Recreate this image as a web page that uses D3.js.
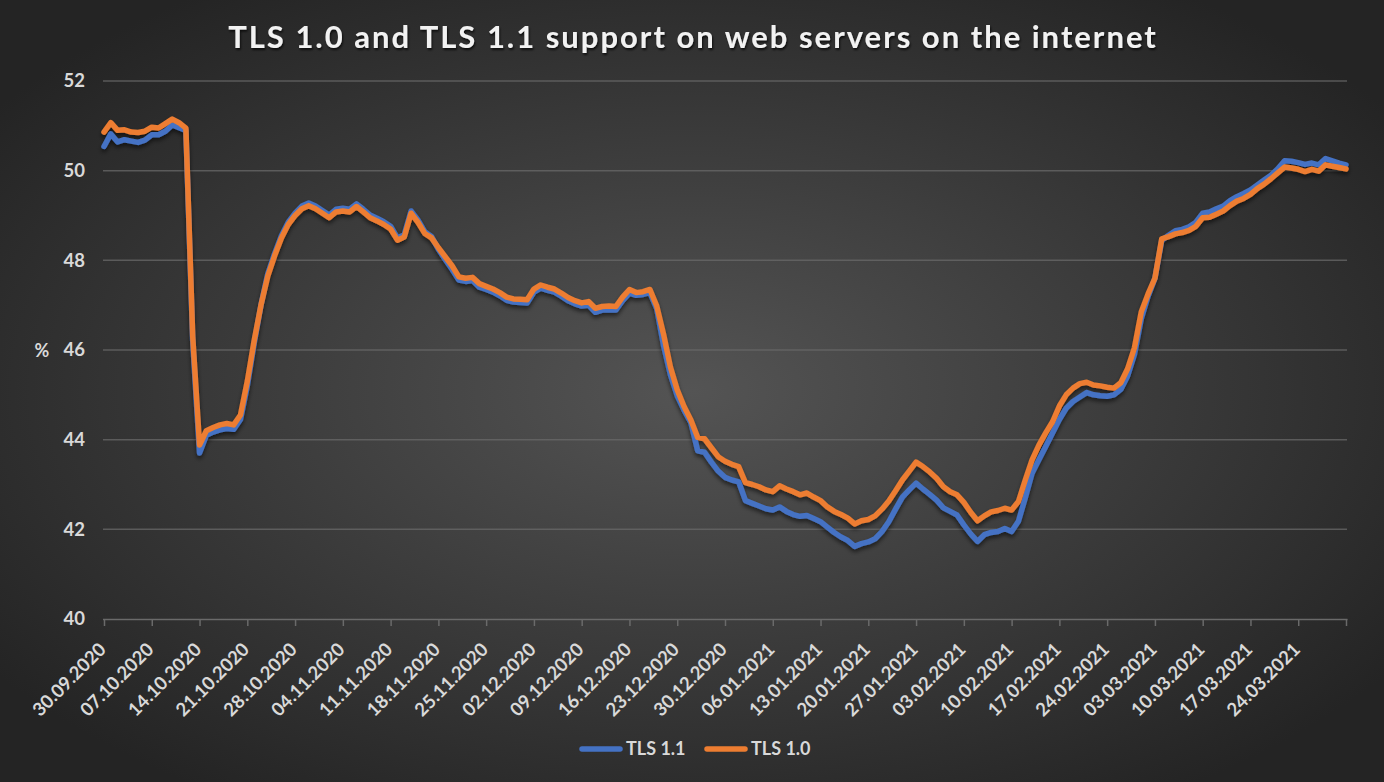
<!DOCTYPE html>
<html><head><meta charset="utf-8">
<script src="https://cdn.jsdelivr.net/npm/d3@7"></script>
<style>body{margin:0;background:#2a2a2a}svg{display:block}</style>
</head><body><svg id="c" width="1384" height="782"></svg>
<script>
const chartTitle = "TLS 1.0 and TLS 1.1 support on web servers on the internet";
const firstDate = "30.09.2020";
const lastDate = "31.03.2021";
const xTickLabels = ["30.09.2020","07.10.2020","14.10.2020","21.10.2020","28.10.2020","04.11.2020","11.11.2020","18.11.2020","25.11.2020","02.12.2020","09.12.2020","16.12.2020","23.12.2020","30.12.2020","06.01.2021","13.01.2021","20.01.2021","27.01.2021","03.02.2021","10.02.2021","17.02.2021","24.02.2021","03.03.2021","10.03.2021","17.03.2021","24.03.2021"];
const yTicks = [40,42,44,46,48,50,52];
const seriesNames = ["TLS 1.1","TLS 1.0"];
const tls11 = [50.54,50.82,50.64,50.69,50.66,50.63,50.68,50.80,50.80,50.88,51.02,50.96,50.90,46.20,43.70,44.10,44.17,44.22,44.25,44.23,44.45,45.20,46.15,47.00,47.70,48.15,48.55,48.85,49.05,49.21,49.28,49.21,49.11,49.01,49.14,49.16,49.14,49.26,49.14,49.01,48.94,48.86,48.76,48.50,48.57,49.10,48.90,48.64,48.53,48.25,48.02,47.80,47.56,47.53,47.55,47.40,47.35,47.29,47.21,47.11,47.07,47.06,47.05,47.29,47.38,47.33,47.29,47.20,47.10,47.03,46.98,47.00,46.84,46.89,46.90,46.89,47.10,47.27,47.22,47.24,47.28,46.92,46.10,45.45,44.98,44.66,44.38,43.75,43.72,43.50,43.30,43.16,43.10,43.06,42.64,42.58,42.52,42.46,42.43,42.50,42.40,42.33,42.29,42.31,42.24,42.17,42.05,41.93,41.83,41.75,41.62,41.68,41.72,41.79,41.95,42.17,42.45,42.72,42.88,43.03,42.90,42.78,42.65,42.48,42.40,42.32,42.10,41.90,41.73,41.88,41.93,41.95,42.02,41.95,42.18,42.70,43.25,43.55,43.85,44.15,44.45,44.70,44.85,44.95,45.05,45.00,44.98,44.97,45.00,45.12,45.42,45.90,46.70,47.20,47.60,48.45,48.56,48.66,48.69,48.75,48.85,49.05,49.08,49.15,49.21,49.33,49.42,49.49,49.57,49.68,49.79,49.90,50.04,50.22,50.21,50.18,50.14,50.17,50.13,50.27,50.22,50.17,50.13];
const tls10 = [50.86,51.07,50.90,50.91,50.86,50.85,50.88,50.97,50.95,51.05,51.15,51.07,50.95,46.30,43.88,44.20,44.27,44.33,44.36,44.33,44.55,45.30,46.20,47.00,47.65,48.10,48.50,48.80,49.00,49.15,49.22,49.15,49.05,48.95,49.08,49.10,49.08,49.20,49.08,48.95,48.88,48.80,48.70,48.45,48.52,49.05,48.85,48.60,48.50,48.28,48.08,47.88,47.63,47.60,47.62,47.48,47.42,47.36,47.28,47.18,47.14,47.13,47.12,47.36,47.45,47.40,47.36,47.27,47.17,47.10,47.05,47.08,46.93,46.97,46.98,46.97,47.18,47.35,47.28,47.30,47.35,46.98,46.35,45.62,45.11,44.74,44.44,44.05,44.02,43.82,43.62,43.52,43.45,43.40,43.04,43.00,42.95,42.88,42.84,42.97,42.90,42.84,42.77,42.81,42.72,42.64,42.50,42.40,42.33,42.25,42.12,42.19,42.22,42.30,42.45,42.63,42.86,43.10,43.30,43.50,43.40,43.28,43.14,42.95,42.84,42.77,42.60,42.38,42.19,42.30,42.39,42.42,42.47,42.43,42.62,43.10,43.55,43.88,44.15,44.40,44.75,45.00,45.15,45.25,45.28,45.22,45.20,45.17,45.15,45.27,45.58,46.05,46.85,47.25,47.60,48.48,48.53,48.59,48.62,48.67,48.76,48.95,48.96,49.03,49.10,49.22,49.32,49.38,49.47,49.60,49.70,49.82,49.95,50.08,50.06,50.03,49.98,50.03,49.99,50.13,50.10,50.07,50.04];
const colors = ["#4472C4","#ED7D31"];

const parse = d3.timeParse("%d.%m.%Y");
const fmt = d3.timeFormat("%d.%m.%Y");
const d0 = parse(firstDate), d1 = parse(lastDate);
const dates = d3.timeDay.range(d0, d3.timeDay.offset(d1, 1));

const svg = d3.select("#c");
const W = 1384, H = 782;
const defs = svg.append("defs");
const rg = defs.append("radialGradient").attr("id","bg").attr("cx","50%").attr("cy","50%").attr("r","62%")
  .attr("gradientUnits","objectBoundingBox");
rg.append("stop").attr("offset","0%").attr("stop-color","#545454");
rg.append("stop").attr("offset","100%").attr("stop-color","#242424");
const f = defs.append("filter").attr("id","sh").attr("x","-5%").attr("y","-5%").attr("width","110%").attr("height","115%");
f.append("feDropShadow").attr("dx",0).attr("dy",3).attr("stdDeviation",2).attr("flood-color","#000").attr("flood-opacity",0.55);
const ft = defs.append("filter").attr("id","tsh").attr("x","-5%").attr("y","-20%").attr("width","110%").attr("height","160%");
ft.append("feDropShadow").attr("dx",1).attr("dy",2).attr("stdDeviation",1.2).attr("flood-color","#000").attr("flood-opacity",0.7);

svg.append("rect").attr("width",W).attr("height",H).attr("fill","url(#bg)");

const x = d3.scaleTime().domain([d0, d1]).range([104, 1346]);
const y = d3.scaleLinear().domain([40, 52]).range([619, 81]);

// gridlines
svg.append("g").selectAll("line").data(yTicks.filter(v => v !== 40)).join("line")
  .attr("x1",103).attr("x2",1347).attr("y1",d=>y(d)).attr("y2",d=>y(d))
  .attr("stroke","#6a6a6a").attr("stroke-opacity",0.75).attr("stroke-width",1.5);

// y labels
const font = "Lato, 'Open Sans', sans-serif";
svg.append("g").selectAll("text").data(yTicks).join("text")
  .attr("x",85).attr("y",d=>y(d)).attr("dy","0.35em").attr("text-anchor","end")
  .attr("font-family",font).attr("font-weight","bold").attr("font-size",18.5).attr("fill","#d9d9d9")
  .text(d=>d);
svg.append("text").attr("x",42).attr("y",351).attr("dy","0.35em").attr("text-anchor","middle")
  .attr("font-family",font).attr("font-weight","bold").attr("font-size",18).attr("fill","#d9d9d9").text("%");

// x axis
const tickDates = xTickLabels.map(parse).concat([d1]);
const xAxis = d3.axisBottom(x).tickValues(tickDates).tickSize(7)
  .tickFormat(d => xTickLabels.includes(fmt(d)) ? fmt(d) : "");
const gx = svg.append("g").attr("transform","translate(0,619)").call(xAxis);
gx.select(".domain").attr("stroke","#6a6a6a").attr("stroke-width",1.5).attr("d","M103,0.5H1347.5");
gx.selectAll(".tick line").attr("stroke","#6a6a6a").attr("stroke-width",1.5);
gx.selectAll(".tick text")
  .attr("font-family",font).attr("font-weight","bold").attr("font-size",18.5).attr("fill","#d9d9d9")
  .attr("text-anchor","end").attr("transform","translate(-2,27) rotate(-45)").attr("dy","0.35em").attr("y",0).attr("x",0);

// lines
const line = d3.line().x((d,i)=>x(dates[i])).y(d=>y(d)).curve(d3.curveLinear);
const gl = svg.append("g").attr("filter","url(#sh)");
[tls11, tls10].forEach((s,k) => {
  gl.append("path").datum(s).attr("d", line).attr("fill","none")
    .attr("stroke",colors[k]).attr("stroke-width",5.5).attr("stroke-linejoin","round").attr("stroke-linecap","round");
});

// title
svg.append("text").attr("x",693).attr("y",37).attr("dy","0.35em").attr("text-anchor","middle")
  .attr("font-family",font).attr("font-weight","bold").attr("font-size",31).attr("fill","#f2f2f2")
  .attr("letter-spacing","2px").attr("filter","url(#tsh)").text(chartTitle);

// legend
const lg = svg.append("g");
const legendItems = [{x:582, tx:626}, {x:707, tx:751}];
legendItems.forEach((p,k) => {
  lg.append("line").attr("x1",p.x).attr("x2",p.x+38).attr("y1",749).attr("y2",749)
    .attr("stroke",colors[k]).attr("stroke-width",5.5).attr("stroke-linecap","round");
  lg.append("text").attr("x",p.tx).attr("y",749).attr("dy","0.35em")
    .attr("font-family",font).attr("font-weight","bold").attr("font-size",18).attr("fill","#d9d9d9").text(seriesNames[k]);
});
</script></body></html>
